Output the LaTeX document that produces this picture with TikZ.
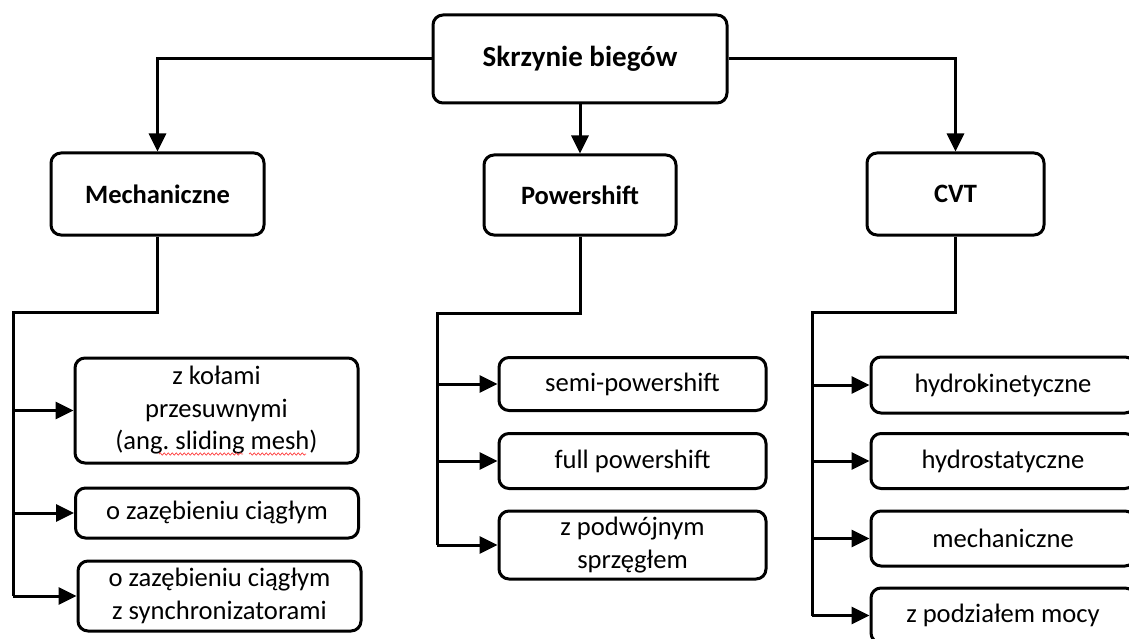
\documentclass[tikz,border=0pt]{standalone}
\usepackage{fontspec}
\setmainfont{Carlito}
\usetikzlibrary{positioning,arrows.meta,decorations.pathmorphing,calc}

\tikzset{
  box/.style={draw, line width=3pt, rounded corners=10pt, align=center, inner sep=0pt},
  main/.style={box, font=\fontsize{29}{35}\selectfont\bfseries},
  group/.style={box, font=\fontsize{26.5}{32}\selectfont\bfseries},
  item/.style={box, font=\fontsize{26.6}{32.5}\selectfont},
  link/.style={line width=3pt},
  arr/.style={link, -{Triangle[length=18pt,width=17pt]}},
  spell/.style={red!75, line width=0.7pt, decorate, decoration={snake, amplitude=1.1pt, segment length=4pt}}
}

\begin{document}
\frenchspacing
\begin{tikzpicture}[x=1pt,y=-1pt]
  \useasboundingbox (0,0) rectangle (1129,639);
  \clip (0,0) rectangle (1129,639);
  \def\lw{283} % width of the left items
  \def\cw{267} % width of the middle items
  \def\rw{264} % width of the right items
  % top level
  \node[main, minimum width=294pt, minimum height=88pt] (gear) at (580,59) {Skrzynie biegów};
  % three groups
  \node[group, minimum width=213pt, minimum height=82pt] (mech) at (157.5,194) {Mechaniczne};
  \node[group, minimum width=192pt, minimum height=80pt] (pshift) at (580,195) {Powershift};
  \node[group, minimum width=177pt, minimum height=82pt] (cvt) at (955.5,194) {CVT};
  \draw[arr] (gear.west) -| (mech.north);
  \draw[arr] (gear.south) -- (pshift.north);
  \draw[arr] (gear.east) -| (cvt.north);
  % mechanical gearboxes
  \node[item, minimum width=\lw pt, minimum height=105pt] (mech1) at (216.5,410.5) {z kołami\\przesuwnymi\\(ang. sliding mesh)};
  \node[item, minimum width=\lw pt, minimum height=50pt] (mech2) at (217,513) {o zazębieniu ciągłym};
  \node[item, minimum width=\lw pt, minimum height=70pt] (mech3) at (219.5,596) {o zazębieniu ciągłym\\z synchronizatorami};
  \draw[spell] (159,454) -- (243,454);
  \draw[spell] (249,454) -- (306,454);
  % powershift gearboxes
  \node[item, minimum width=\cw pt, minimum height=53pt] (pshift1) at (632.5,384) {semi-powershift};
  \node[item, minimum width=\cw pt, minimum height=55pt] (pshift2) at (632.5,461) {full powershift};
  \node[item, minimum width=\cw pt, minimum height=68pt] (pshift3) at (632.5,545) {z podwójnym\\sprzęgłem};
  % continuously variable
  \node[item, minimum width=\rw pt, minimum height=56pt] (cvt1) at (1003,385) {hydrokinetyczne};
  \node[item, minimum width=\rw pt, minimum height=55pt] (cvt2) at (1003,461) {hydrostatyczne};
  \node[item, minimum width=\rw pt, minimum height=55pt] (cvt3) at (1003,538.5) {mechaniczne};
  \node[item, minimum width=\rw pt, minimum height=55pt] (cvt4) at (1003,615.5) {z podziałem mocy};
  % buses to the items
  \coordinate (mbus) at (13,312);
  \coordinate (pbus) at (437,313);
  \coordinate (cbus) at (812,312);
  \draw[link] (mech.south) |- (mbus) -- (mbus |- mech3.west);
  \draw[link] (pshift.south) |- (pbus) -- (pbus |- pshift3.west);
  \draw[link] (cvt.south) |- (cbus) -- (cbus |- cvt4.west);
  \foreach \i in {1,2,3} {
    \draw[arr] (mbus |- mech\i.west) -- (mech\i.west);
    \draw[arr] (pbus |- pshift\i.west) -- (pshift\i.west);
  }
  \foreach \i in {1,...,4} {
    \draw[arr] (cbus |- cvt\i.west) -- (cvt\i.west);
  }
\end{tikzpicture}
\end{document}
